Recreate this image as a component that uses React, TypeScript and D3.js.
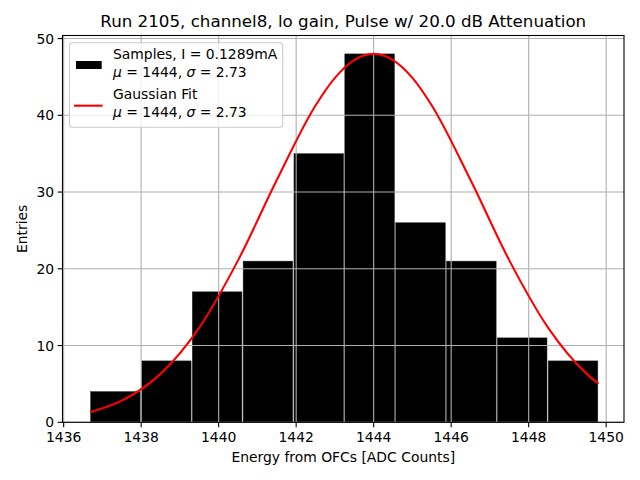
import { useEffect, useRef } from 'react';
import * as d3 from 'd3';

// histogram bins
const binStart = 1436.68;
const binWidth = 1.312;
const counts = [4, 8, 17, 21, 35, 48, 26, 21, 11, 8];

// gaussian fit curve
const fitX = [1436.68, 1437.5, 1438.5, 1439.5, 1440.5, 1441.5, 1442.5, 1443, 1443.5, 1444, 1444.5, 1445, 1445.5, 1446.5, 1447.5, 1448.5, 1449.5, 1449.8];
const fitY = [1.32, 2.82, 6.31, 12.34, 21.1, 31.56, 41.28, 44.88, 47.2, 48, 47.2, 44.88, 41.28, 31.56, 21.1, 12.34, 6.31, 5.03];

const xTicks = [1436, 1438, 1440, 1442, 1444, 1446, 1448, 1450];
const yTicks = [0, 10, 20, 30, 40, 50];

const title = 'Run 2105, channel8, lo gain, Pulse w/ 20.0 dB Attenuation';
const xLabel = 'Energy from OFCs [ADC Counts]';
const yLabel = 'Entries';

const W = 640;
const H = 480;
const box = { left: 62.5, right: 624, top: 35.5, bottom: 422.3 };
const FONT = 'DejaVu Sans, sans-serif';

export default function App() {
  const svgRef = useRef<SVGSVGElement>(null);

  useEffect(() => {
    if (!svgRef.current) return;
    const svg = d3.select(svgRef.current);
    svg.selectAll('*').remove();

    const x = d3.scaleLinear().domain([1435.97, 1450.46]).range([box.left, box.right]);
    const y = d3.scaleLinear().domain([0, 50.4]).range([box.bottom, box.top]);

    svg.append('rect').attr('width', W).attr('height', H).attr('fill', 'white');

    // bars
    svg.append('g')
      .selectAll('rect')
      .data(counts)
      .enter().append('rect')
      .attr('x', (d, i) => x(binStart + i * binWidth) + 0.6)
      .attr('y', d => y(d))
      .attr('width', (d, i) => x(binStart + (i + 1) * binWidth) - x(binStart + i * binWidth) - 1.2)
      .attr('height', d => box.bottom - y(d))
      .attr('fill', 'black')
      .attr('stroke', '#2a2a2a')
      .attr('stroke-width', 0.5);

    // grid on top of bars
    const grid = svg.append('g').attr('stroke', '#b0b0b0').attr('stroke-width', 1.1);
    xTicks.forEach(t => {
      grid.append('line').attr('x1', x(t)).attr('x2', x(t)).attr('y1', box.top).attr('y2', box.bottom);
    });
    yTicks.forEach(t => {
      grid.append('line').attr('x1', box.left).attr('x2', box.right).attr('y1', y(t)).attr('y2', y(t));
    });

    // fit curve
    const line = d3.line<number>()
      .x((d, i) => x(fitX[i]))
      .y(d => y(d))
      .curve(d3.curveMonotoneX);
    svg.append('path')
      .attr('d', line(fitY) || '')
      .attr('fill', 'none')
      .attr('stroke', 'red')
      .attr('stroke-width', 2.1);

    // spines
    svg.append('rect')
      .attr('x', box.left).attr('y', box.top)
      .attr('width', box.right - box.left).attr('height', box.bottom - box.top)
      .attr('fill', 'none').attr('stroke', 'black').attr('stroke-width', 1.1);

    // ticks
    const ax = svg.append('g').attr('font-family', FONT).attr('font-size', 13.9).attr('fill', 'black');
    xTicks.forEach(t => {
      ax.append('line').attr('x1', x(t)).attr('x2', x(t)).attr('y1', box.bottom).attr('y2', box.bottom + 4.9)
        .attr('stroke', 'black').attr('stroke-width', 1.1);
      ax.append('text').attr('x', x(t)).attr('y', 441.7).attr('text-anchor', 'middle').text(t);
    });
    yTicks.forEach(t => {
      ax.append('line').attr('x1', box.left - 4.9).attr('x2', box.left).attr('y1', y(t)).attr('y2', y(t))
        .attr('stroke', 'black').attr('stroke-width', 1.1);
      ax.append('text').attr('x', box.left - 8.4).attr('y', y(t)).attr('dy', '0.36em').attr('text-anchor', 'end').text(t);
    });

    // labels
    svg.append('text').attr('x', (box.left + box.right) / 2).attr('y', 26.7)
      .attr('text-anchor', 'middle').attr('font-family', FONT).attr('font-size', 16.7).text(title);
    svg.append('text').attr('x', (box.left + box.right) / 2).attr('y', 462.3)
      .attr('text-anchor', 'middle').attr('font-family', FONT).attr('font-size', 13.9).text(xLabel);
    svg.append('text').attr('transform', `translate(26.5,${(box.top + box.bottom) / 2}) rotate(-90)`)
      .attr('text-anchor', 'middle').attr('font-family', FONT).attr('font-size', 13.9).text(yLabel);

    // legend
    const lg = svg.append('g').attr('font-family', FONT).attr('font-size', 13.9);
    lg.append('rect').attr('x', 69.5).attr('y', 42.7).attr('width', 213.2).attr('height', 84.6)
      .attr('rx', 3).attr('fill', 'white').attr('fill-opacity', 0.8)
      .attr('stroke', '#cccccc').attr('stroke-width', 1.1);
    lg.append('rect').attr('x', 76).attr('y', 61).attr('width', 25.7).attr('height', 8).attr('fill', 'black');
    lg.append('line').attr('x1', 74).attr('x2', 102.7).attr('y1', 105.7).attr('y2', 105.7)
      .attr('stroke', 'red').attr('stroke-width', 2.1);

    const muSigma = (yy: number) => {
      const t = lg.append('text').attr('x', 113).attr('y', yy);
      t.append('tspan').attr('font-style', 'italic').text('μ');
      t.append('tspan').text(' = 1444, ');
      t.append('tspan').attr('font-style', 'italic').text('σ');
      t.append('tspan').text(' = 2.73');
    };
    lg.append('text').attr('x', 113).attr('y', 59).text('Samples, I = 0.1289mA');
    muSigma(76.5);
    lg.append('text').attr('x', 113).attr('y', 99).text('Gaussian Fit');
    muSigma(116.5);
  }, []);

  return (
    <svg
      ref={svgRef}
      width={W}
      height={H}
      style={{ position: 'absolute', left: 0, top: 0, display: 'block' }}
    />
  );
}
